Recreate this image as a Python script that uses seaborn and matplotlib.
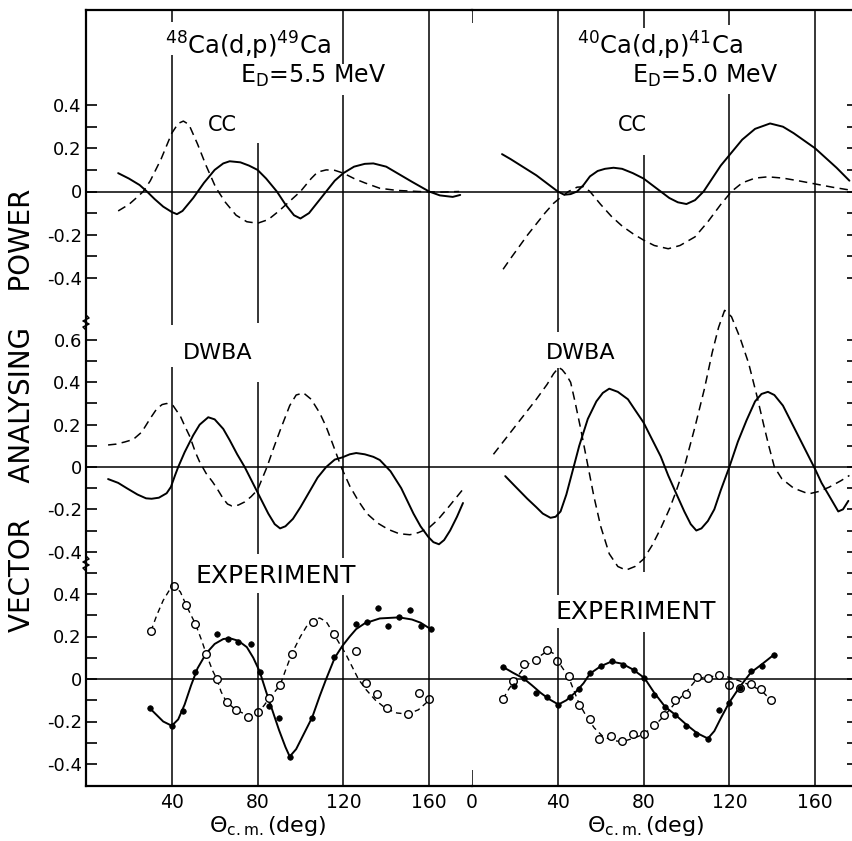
import matplotlib.pyplot as plt
from matplotlib.lines import Line2D
import seaborn as sns

W, H = 853, 841

# ---------------------------------------------------------------------------
# Values: (theta_cm [deg], vector analysing power)
# ---------------------------------------------------------------------------
# 48Ca(d,p)49Ca, E_D = 5.5 MeV
CA48_CC_SOLID = [
    (15, 0.085), (20, 0.06), (25, 0.03), (28.4, 0.0), (32, -0.035), (36, -0.07),
    (40, -0.095), (42.4, -0.105), (45, -0.09), (50, -0.03), (55, 0.04), (60, 0.1),
    (64, 0.13), (67, 0.14), (72, 0.135), (76, 0.12), (80, 0.10), (84, 0.06),
    (89, 0.0), (93, -0.06), (97, -0.11), (100, -0.125), (104, -0.1), (108, -0.05),
    (112, 0.0), (116, 0.05), (120, 0.085), (125, 0.115), (130, 0.128), (134, 0.13),
    (140, 0.115), (146, 0.08), (152, 0.045), (160, 0.0), (165, -0.018),
    (171, -0.025), (174.5, -0.016),
]
CA48_CC_DASHED = [
    (15, -0.09), (20, -0.06), (24, -0.025), (26.7, 0.0), (30, 0.05), (35, 0.15),
    (40, 0.27), (43, 0.315), (45.4, 0.326), (48, 0.31), (52, 0.22), (56, 0.12),
    (60, 0.03), (61.7, 0.0), (65, -0.05), (70, -0.11), (75, -0.14), (80, -0.147),
    (85, -0.13), (90, -0.09), (95, -0.045), (100, 0.0), (105, 0.06), (108, 0.09),
    (112, 0.1), (116, 0.098), (120, 0.085), (125, 0.06), (130, 0.04), (137, 0.015),
    (145, 0.005), (155, 0.0), (165, -0.003), (174, 0.0),
]
CA48_DWBA_SOLID = [
    (10.3, -0.057), (15, -0.075), (19, -0.1), (24, -0.13), (28, -0.148),
    (30.6, -0.15), (34, -0.145), (37.6, -0.124), (39.6, -0.094), (41.5, -0.04),
    (43, 0.0), (46, 0.07), (50, 0.15), (53, 0.2), (57, 0.235), (60, 0.225),
    (64, 0.18), (67, 0.127), (70.5, 0.06), (74, 0.0), (77.5, -0.07), (81, -0.14),
    (85, -0.22), (88, -0.27), (90.5, -0.29), (93, -0.28), (96.5, -0.245),
    (100, -0.19), (104, -0.12), (108, -0.05), (112, 0.0), (116, 0.035),
    (119.4, 0.045), (123, 0.06), (126, 0.066), (130, 0.06), (134, 0.048),
    (137, 0.033), (142, -0.02), (147, -0.1), (152.7, -0.22), (156, -0.28),
    (159.6, -0.33), (162, -0.355), (164.6, -0.365), (167, -0.345), (169.8, -0.3),
    (173, -0.235), (175.8, -0.17),
]
CA48_DWBA_DASHED = [
    (10.3, 0.104), (14, 0.108), (18, 0.118), (22, 0.13), (26, 0.165), (30, 0.23),
    (33, 0.275), (35.5, 0.295), (37.6, 0.30), (40.6, 0.29), (44, 0.24),
    (46, 0.195), (48.5, 0.142), (51, 0.07), (53, 0.024), (56, -0.03), (59, -0.07),
    (61, -0.1), (64, -0.15), (66, -0.175), (68, -0.184), (71, -0.18), (74, -0.165),
    (77, -0.14), (80, -0.108), (84.4, 0.0), (87.5, 0.09), (90.6, 0.175),
    (95, 0.29), (98, 0.34), (101.4, 0.35), (105, 0.32), (109, 0.255), (112, 0.19),
    (115, 0.11), (119, 0.0), (123, -0.09), (127, -0.16), (131, -0.22),
    (136, -0.265), (141, -0.295), (146, -0.315), (151, -0.32), (155, -0.31),
    (159.6, -0.29), (164, -0.25), (169, -0.19), (175.8, -0.105),
]
CA48_EXP_SOLID = [
    (30, -0.14), (33, -0.17), (36, -0.2), (40, -0.22), (43, -0.19), (46, -0.12),
    (49, -0.03), (52, 0.05), (56, 0.12), (60, 0.165), (64, 0.188), (67, 0.192),
    (71, 0.18), (75, 0.15), (78, 0.1), (81, 0.035), (84, -0.06), (87, -0.15),
    (90, -0.24), (93, -0.32), (95, -0.365), (98, -0.33), (101, -0.27),
    (105.5, -0.18), (109, -0.08), (112, 0.0), (116, 0.1), (119.5, 0.155),
    (123, 0.2), (126, 0.235), (130, 0.262), (137, 0.285), (146, 0.29),
    (152, 0.28), (156, 0.265), (161.5, 0.23),
]
CA48_EXP_DASHED = [
    (30.3, 0.226), (33, 0.3), (36, 0.37), (39, 0.42), (41, 0.44), (44, 0.41),
    (46.6, 0.35), (49, 0.3), (51, 0.26), (54, 0.18), (56, 0.12), (59, 0.04),
    (61, 0.0), (63, -0.06), (65.6, -0.11), (70, -0.145), (75, -0.17), (78, -0.17),
    (80.4, -0.155), (83, -0.125), (85.5, -0.09), (88, -0.06), (90.5, -0.03),
    (93, 0.04), (96, 0.12), (100, 0.2), (103, 0.25), (106, 0.278), (109, 0.287),
    (112, 0.27), (115.7, 0.21), (118, 0.17), (121, 0.12), (124, 0.06), (127, 0.0),
    (130.6, -0.05), (135, -0.1), (140, -0.14), (145, -0.16), (150, -0.165),
    (155, -0.145), (160, -0.1),
]
CA48_EXP_FILLED = [
    (29.8, -0.136), (40, -0.22), (45.4, -0.15), (50.8, 0.033), (61, 0.21),
    (66.4, 0.19), (71, 0.175), (76.8, 0.165), (81, 0.033), (85.5, -0.127),
    (90, -0.184), (95, -0.367), (105.5, -0.183), (115.7, 0.104), (126, 0.26),
    (131, 0.27), (136, 0.335), (141, 0.25), (146, 0.29), (151, 0.325),
    (156, 0.25), (161, 0.235),
]
CA48_EXP_OPEN = [
    (30.3, 0.226), (41, 0.44), (46.6, 0.35), (51, 0.26), (56, 0.12), (61, 0.0),
    (65.6, -0.11), (70, -0.145), (75.6, -0.18), (80.4, -0.155), (85.5, -0.09),
    (90.5, -0.03), (96, 0.12), (106, 0.27), (115.7, 0.21), (126, 0.13),
    (130.6, -0.02), (135.6, -0.07), (140.4, -0.137), (150, -0.165),
    (155.3, -0.066), (160, -0.094),
]

# 40Ca(d,p)41Ca, E_D = 5.0 MeV
CA40_CC_SOLID = [
    (14, 0.173), (18, 0.15), (22, 0.125), (26, 0.1), (30, 0.075), (34, 0.045),
    (38, 0.015), (40, 0.0), (43, -0.015), (46, -0.012), (49, 0.0), (52, 0.03),
    (55, 0.07), (58.6, 0.095), (62, 0.105), (66, 0.11), (70, 0.105), (75, 0.085),
    (80, 0.06), (84, 0.03), (88, 0.0), (92, -0.03), (96, -0.05), (100, -0.058),
    (104, -0.04), (108, 0.0), (112, 0.06), (116, 0.12), (121, 0.18), (126, 0.24),
    (132, 0.29), (139, 0.315), (145, 0.3), (150, 0.27), (155, 0.235), (160, 0.2),
    (165, 0.155), (170, 0.11), (176, 0.05),
]
CA40_CC_DASHED = [
    (14.5, -0.36), (18, -0.31), (22, -0.255), (26, -0.2), (30, -0.15),
    (34, -0.1), (38, -0.055), (41, -0.03), (45, 0.0), (49, 0.02), (52, 0.022),
    (55, 0.0), (60, -0.06), (65, -0.115), (70, -0.16), (75, -0.195), (80, -0.225),
    (85, -0.25), (91.5, -0.265), (97, -0.25), (104, -0.21), (110, -0.14),
    (116, -0.06), (121, 0.0), (126, 0.04), (132, 0.062), (138, 0.068),
    (145, 0.062), (152, 0.05), (160, 0.035), (168, 0.02), (176, 0.007),
]
CA40_DWBA_SOLID = [
    (15.5, -0.043), (20, -0.09), (25.8, -0.15), (30, -0.19), (33, -0.22),
    (36.6, -0.24), (39, -0.235), (41.3, -0.21), (44, -0.13), (47.4, 0.0),
    (50, 0.1), (54, 0.227), (58, 0.31), (61, 0.35), (64, 0.37), (68, 0.355),
    (72.7, 0.32), (76, 0.27), (80, 0.21), (84, 0.13), (88, 0.05), (91.5, -0.04),
    (95, -0.12), (99, -0.21), (102, -0.27), (104.6, -0.30), (107, -0.29),
    (110, -0.255), (113, -0.2), (116, -0.11), (120, 0.0), (124, 0.12),
    (128, 0.22), (132, 0.31), (135, 0.345), (138, 0.355), (141, 0.34),
    (145, 0.29), (149, 0.21), (153, 0.13), (157, 0.05), (160, -0.01),
    (163, -0.075), (166.6, -0.137), (170.8, -0.21), (173, -0.2), (175.5, -0.16),
]
CA40_DWBA_DASHED = [
    (10, 0.06), (15, 0.125), (20, 0.19), (25, 0.255), (30, 0.32), (35, 0.39),
    (38, 0.44), (40.4, 0.47), (42, 0.46), (44, 0.435), (46, 0.40), (48, 0.31),
    (50.7, 0.18), (53, 0.06), (56.8, -0.137), (60, -0.28), (64, -0.41),
    (68, -0.47), (71.8, -0.487), (76, -0.47), (80, -0.435), (84, -0.37),
    (88, -0.29), (92, -0.2), (95, -0.12), (99, 0.0), (104, 0.19), (108.4, 0.37),
    (112, 0.54), (115, 0.66), (117.8, 0.74), (121, 0.71), (125, 0.61),
    (129, 0.49), (133, 0.33), (136, 0.2), (138.4, 0.1), (141, 0.0),
    (144.5, -0.056), (150, -0.1), (157, -0.127), (162, -0.115), (166.6, -0.095),
    (172, -0.065), (176, -0.04),
]
CA40_EXP_SOLID = [
    (14.6, 0.056), (19, 0.03), (24, 0.003), (28, -0.03), (32, -0.065),
    (36, -0.095), (40.3, -0.12), (44, -0.1), (48, -0.065), (52, -0.02),
    (55, 0.025), (60, 0.06), (65, 0.082), (70, 0.072), (75, 0.045), (80.4, 0.005),
    (85, -0.065), (90, -0.13), (95, -0.17), (100, -0.215), (105, -0.255),
    (110, -0.28), (113, -0.245), (116, -0.185), (120, -0.11), (125, -0.035),
    (130, 0.03), (135, 0.068), (140, 0.108),
]
CA40_EXP_DASHED = [
    (14.5, -0.093), (17, -0.05), (20, -0.005), (24, 0.05), (28, 0.085),
    (32, 0.11), (35.5, 0.135), (38, 0.12), (41, 0.07), (45, 0.01), (49.7, -0.11),
    (53, -0.17), (57, -0.23), (61, -0.27), (66, -0.29), (70, -0.295), (75, -0.28),
    (80, -0.26), (85, -0.22), (90, -0.17), (95, -0.11), (100, -0.06),
    (104, -0.01), (108, 0.008), (112, 0.012), (116, 0.015), (120, 0.008),
    (125, -0.01), (130, -0.03), (135, -0.055), (139.5, -0.1),
]
CA40_EXP_FILLED = [
    (14.6, 0.056), (19.4, -0.035), (24.4, 0.005), (30, -0.066), (35, -0.085),
    (40.3, -0.12), (45.5, -0.085), (49.8, -0.047), (55, 0.028), (60, 0.06),
    (65.2, 0.084), (70.3, 0.066), (75.5, 0.042), (80.4, 0.005), (85, -0.075),
    (90, -0.13), (94.8, -0.168), (100, -0.222), (104.6, -0.26), (110, -0.28),
    (115, -0.146), (120, -0.113), (125, -0.042), (130, 0.038), (135, 0.06),
    (140.8, 0.113),
]
CA40_EXP_OPEN = [
    (14.5, -0.093), (19.3, -0.01), (24.4, 0.07), (30, 0.09), (35.2, 0.137),
    (39.8, 0.085), (45, 0.014), (49.7, -0.12), (55, -0.19), (59.3, -0.28),
    (64.8, -0.27), (70, -0.29), (75, -0.26), (80.2, -0.26), (85, -0.218),
    (89.6, -0.17), (94.8, -0.097), (100, -0.07), (105, 0.008), (110, 0.005),
    (115, 0.02), (120, -0.028), (125, -0.042), (130, -0.024), (134.8, -0.047),
    (139.5, -0.1),
]

Y_TICKS = {
    "cc": ([-0.4, -0.2, 0, 0.2, 0.4], ["-0.4", "-0.2", "0", "0.2", "0.4"],
           [-0.3, -0.1, 0.1, 0.3]),
    "dwba": ([-0.4, -0.2, 0, 0.2, 0.4, 0.6], ["-0.4", "-0.2", "0", "0.2", "0.4", "0.6"],
             [-0.3, -0.1, 0.1, 0.3, 0.5]),
    "exp": ([-0.4, -0.2, 0, 0.2, 0.4], ["-0.4", "-0.2", "0", "0.2", "0.4"],
            [-0.3, -0.1, 0.1, 0.3, 0.5]),
}
X_TICKS_LEFT = [40, 80, 120, 160]
X_TICKS_RIGHT = [0, 40, 80, 120, 160]

# ---------------------------------------------------------------------------
# layout (figure pixels)
# ---------------------------------------------------------------------------
COLS = {"left": (86, 472), "right": (472, 858)}
# row: top px, bottom px, px of zero line, px per unit
ROWS = {"cc": (10, 322, 191.5, 216.0),
        "dwba": (322, 563, 467.0, 211.7),
        "exp": (563, 786, 679.0, 212.5)}
# visible pieces of the vertical reference lines (px ranges)
GRID_SEGMENTS = {
    "left": {40: [(10, 22), (55, 325), (367, 786)],
             80: [(143, 323), (382, 554), (593, 786)],
             120: [(10, 64), (95, 558), (595, 786)],
             160: [(10, 786)]},
    "right": {0: [(10, 23), (770, 786)],
              40: [(10, 332), (368, 595), (628, 786)],
              80: [(10, 28), (155, 572), (632, 786)],
              120: [(10, 25), (94, 786)],
              160: [(10, 786)]},
}

sns.set_theme(style="white", rc={"axes.edgecolor": "black", "xtick.color": "black",
                                 "ytick.color": "black", "text.color": "black"})
plt.rcParams["font.family"] = ["DejaVu Sans"]
plt.rcParams["mathtext.default"] = "regular"


def fx(px):
    return px / W


def fy(py):
    return 1 - py / H


def split(pairs):
    return [p[0] for p in pairs], [p[1] for p in pairs]


fig = plt.figure(figsize=(W / 100, H / 100), dpi=100)
fig.patch.set_facecolor("white")

axes = {}
for cname, (x0, x1) in COLS.items():
    for rname, (y0, y1, zero, scale) in ROWS.items():
        ax = fig.add_axes([fx(x0), fy(y1), (x1 - x0) / W, (y1 - y0) / H])
        ax.set_facecolor("none")
        ax.set_xlim(0, 180)
        ax.set_ylim(-(y1 - zero) / scale, (zero - y0) / scale)
        for s in ax.spines.values():
            s.set_visible(False)
            s.set_linewidth(1.6)
        ax.spines["left" if cname == "left" else "right"].set_visible(True)
        if rname == "cc":
            ax.spines["top"].set_visible(True)
        if rname == "exp":
            ax.spines["bottom"].set_visible(True)
        major, labels, minor = Y_TICKS[rname]
        ax.set_yticks(major)
        ax.set_yticks(minor, minor=True)
        if cname == "left":
            ax.yaxis.set_ticks_position("left")
            ax.set_yticklabels(labels)
        else:
            ax.yaxis.set_ticks_position("right")
            ax.set_yticklabels([])
        ax.tick_params(axis="y", which="both", direction="in", length=8, width=1.2,
                       labelsize=13, pad=3)
        if rname == "exp":
            ticks = X_TICKS_LEFT if cname == "left" else X_TICKS_RIGHT
            ax.set_xticks(ticks)
            ax.set_xticklabels([str(t) for t in ticks])
            ax.tick_params(axis="x", length=0, labelsize=13.5, pad=5)
        else:
            ax.set_xticks([])
        ax.axhline(0, color="black", lw=1.1, zorder=1)
        ax.set_xlabel("")
        ax.set_ylabel("")
        axes[(cname, rname)] = ax

# vertical reference lines on a full-height overlay per column
for cname, (x0, x1) in COLS.items():
    top, bottom = ROWS["cc"][0], ROWS["exp"][1]
    ov = fig.add_axes([fx(x0), fy(bottom), (x1 - x0) / W, (bottom - top) / H])
    ov.set_xlim(0, 180)
    ov.set_ylim(0, 1)
    ov.axis("off")
    ov.set_facecolor("none")
    for angle, segs in GRID_SEGMENTS[cname].items():
        for a, b in segs:
            ov.vlines(angle, (bottom - b) / (bottom - top), (bottom - a) / (bottom - top),
                      color="black", lw=1.1)

SOLID = dict(color="black", lw=1.4, sort=False, estimator=None, errorbar=None,
             clip_on=False)
DASHED = dict(color="black", lw=1.1, sort=False, estimator=None, errorbar=None,
              clip_on=False, linestyle=(0, (5.5, 3.5)))
EXP_DASHED = dict(color="black", lw=1.0, sort=False, estimator=None, errorbar=None,
                  clip_on=False, linestyle=(0, (4, 3)))

curves = [
    ("left", "cc", CA48_CC_SOLID, SOLID), ("left", "cc", CA48_CC_DASHED, DASHED),
    ("left", "dwba", CA48_DWBA_SOLID, SOLID), ("left", "dwba", CA48_DWBA_DASHED, DASHED),
    ("left", "exp", CA48_EXP_SOLID, SOLID), ("left", "exp", CA48_EXP_DASHED, EXP_DASHED),
    ("right", "cc", CA40_CC_SOLID, SOLID), ("right", "cc", CA40_CC_DASHED, DASHED),
    ("right", "dwba", CA40_DWBA_SOLID, SOLID), ("right", "dwba", CA40_DWBA_DASHED, DASHED),
    ("right", "exp", CA40_EXP_SOLID, SOLID), ("right", "exp", CA40_EXP_DASHED, EXP_DASHED),
]
for cname, rname, pairs, style in curves:
    xs, ys = split(pairs)
    sns.lineplot(x=xs, y=ys, ax=axes[(cname, rname)], zorder=3, **style)

for cname, filled, opened in [("left", CA48_EXP_FILLED, CA48_EXP_OPEN),
                              ("right", CA40_EXP_FILLED, CA40_EXP_OPEN)]:
    ax = axes[(cname, "exp")]
    xs, ys = split(opened)
    sns.scatterplot(x=xs, y=ys, ax=ax, s=30, color="white", edgecolor="black",
                    linewidth=1.0, zorder=5)
    xs, ys = split(filled)
    sns.scatterplot(x=xs, y=ys, ax=ax, s=16, color="black", edgecolor="black",
                    linewidth=0.5, zorder=6)
    ax.set_xlabel("")
    ax.set_ylabel("")

# axis-break marks on the left frame
for yb in (322, 563):
    zx = [86, 89, 83, 89, 83, 86]
    zy = [yb - 7, yb - 4, yb - 1, yb + 2, yb + 5, yb + 8]
    fig.add_artist(Line2D([fx(v) for v in zx], [fy(v) for v in zy],
                          color="black", lw=1.1))


# text
def label(px, py, s, size, ha="center", va="center", **kw):
    fig.text(fx(px), fy(py), s, fontsize=size, ha=ha, va=va, **kw)


label(22, 410, "VECTOR    ANALYSING    POWER", 20, rotation=90)
label(165, 55, r"$^{48}$Ca(d,p)$^{49}$Ca", 17.5, ha="left", va="baseline")
label(240, 83, r"E$_\mathrm{D}$=5.5 MeV", 17, ha="left", va="baseline")
label(577, 55, r"$^{40}$Ca(d,p)$^{41}$Ca", 17.5, ha="left", va="baseline")
label(632, 83, r"E$_\mathrm{D}$=5.0 MeV", 17, ha="left", va="baseline")
label(222, 125, "CC", 15)
label(632, 125, "CC", 15)
label(218, 353, "DWBA", 16)
label(581, 353, "DWBA", 16)
label(276, 576, "EXPERIMENT", 18)
label(636, 612, "EXPERIMENT", 18)
label(268, 826, r"$\Theta_\mathrm{c.m.}$(deg)", 16)
label(646, 826, r"$\Theta_\mathrm{c.m.}$(deg)", 16)

fig.savefig("out.png", dpi=100, facecolor="white")
